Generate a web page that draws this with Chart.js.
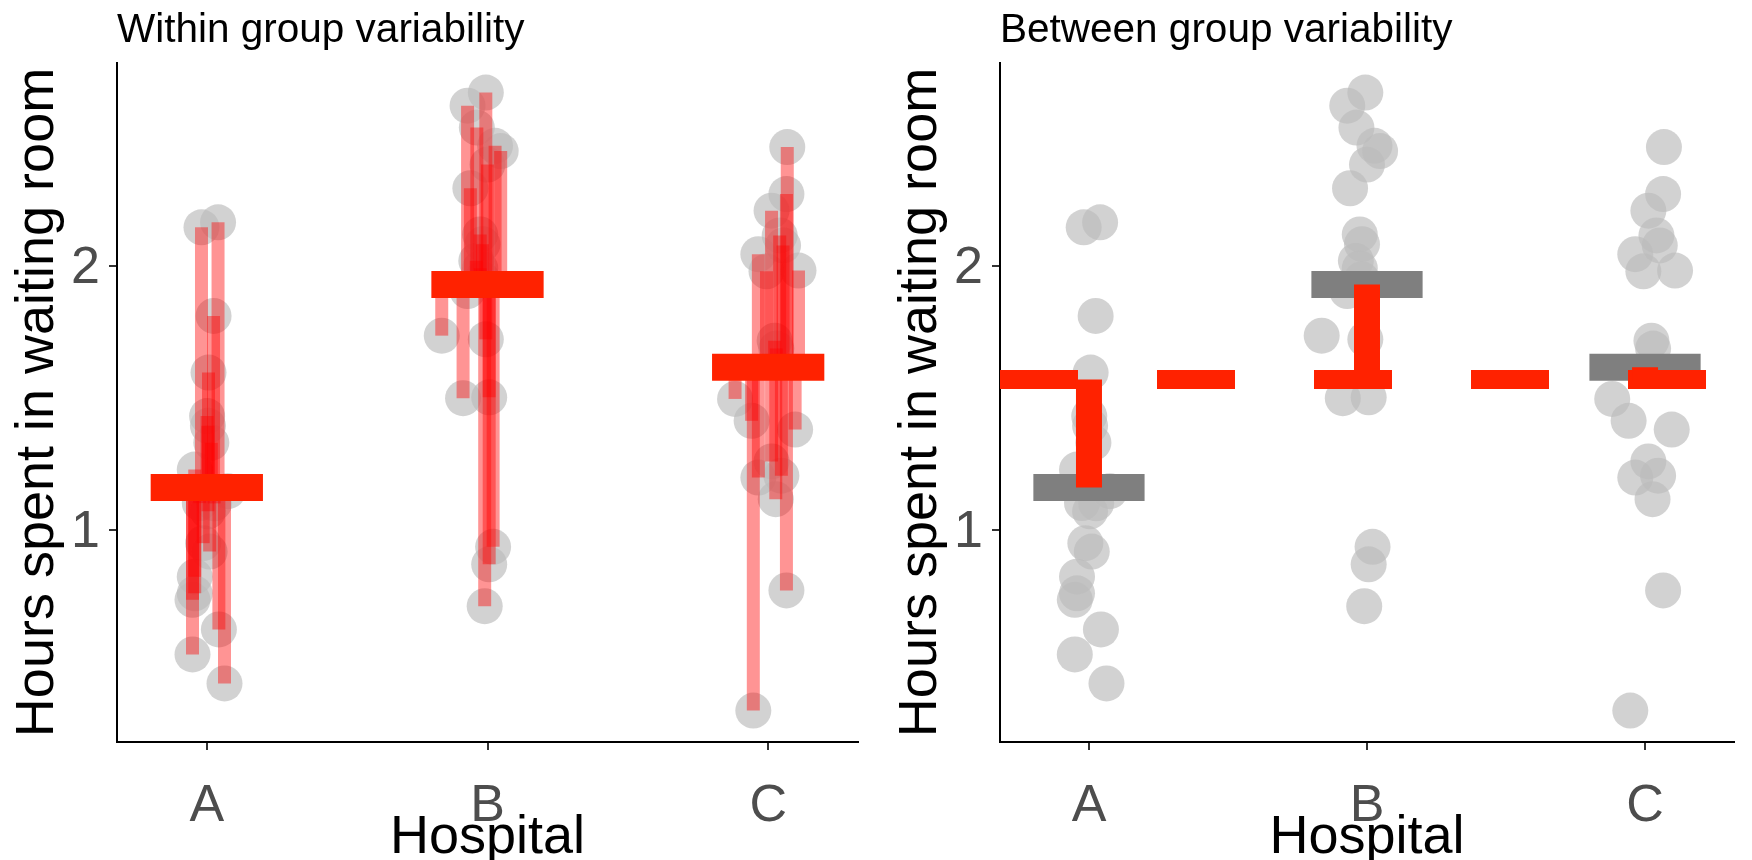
<!DOCTYPE html>
<html>
<head>
<meta charset="utf-8">
<script src="https://cdn.jsdelivr.net/npm/chart.js@4/dist/chart.umd.min.js"></script>
<style>
html, body { margin: 0; padding: 0; background: #fff; overflow: hidden; }
.panel { position: absolute; top: 0; height: 860px; }
#left { left: 0; width: 876px; }
#right { left: 883px; width: 869px; }
</style>
</head>
<body>
<div class="panel" id="left"><canvas id="within"></canvas></div>
<div class="panel" id="right"><canvas id="between"></canvas></div>
<script>
const hospitals = ["A", "B", "C"];

// jitter (offset from the hospital position) and hours, one pair of arrays per hospital
const jitterA = [-0.019, 0.040, 0.024, 0.006, 0.001, 0.004, 0.016, -0.043, 0.075, -0.025,
                 0.004, -0.013, 0.010, -0.043, -0.043, -0.051, 0.043, -0.051, 0.063, 0.026];
const hoursA  = [2.147, 2.166, 1.811, 1.596, 1.431, 1.394, 1.330, 1.228, 1.146, 1.101,
                 1.070, 0.949, 0.917, 0.822, 0.759, 0.734, 0.622, 0.527, 0.417, 1.100];

const jitterB = [-0.071, -0.006, -0.038, 0.047, 0.000, -0.061, -0.018, -0.026, -0.071, -0.163,
                 -0.006, -0.087, 0.006, 0.020, 0.006, -0.010, 0.027, -0.040, -0.019, -0.026];
const hoursB  = [2.608, 2.658, 2.525, 2.436, 2.385, 2.295, 2.083, 1.992, 1.905, 1.736,
                 1.722, 1.499, 1.502, 0.935, 0.869, 0.710, 2.456, 2.020, 1.950, 2.120];

const jitterC = [0.068, 0.065, 0.012, 0.041, 0.053, -0.035, -0.006, 0.108, 0.023, 0.029,
                 -0.118, -0.059, 0.096, 0.012, -0.035, 0.047, 0.027, 0.065, -0.053];
const hoursC  = [2.451, 2.273, 2.210, 2.116, 2.078, 2.045, 1.980, 1.983, 1.717, 1.687,
                 1.496, 1.413, 1.380, 1.259, 1.198, 1.205, 1.116, 0.770, 0.314];

const groupMeans = [1.16, 1.93, 1.616];
const grandMean = 1.57;
const yTicks = [1, 2];

const groups = [[jitterA, hoursA], [jitterB, hoursB], [jitterC, hoursC]];
const xMin = 0.68, xMax = 3.32;
const FONT = '"Liberation Sans", Arial, Helvetica, sans-serif';

function allPoints() {
  const out = [];
  groups.forEach(([jx, hy], i) => {
    hy.forEach((v, j) => out.push({ x: i + 1 + jx[j], y: v, g: i }));
  });
  return out;
}

function seg(data, color, width, order, dash) {
  return {
    type: "line", data: data, showLine: true, pointRadius: 0,
    borderColor: color, borderWidth: width, borderCapStyle: "butt",
    borderDash: dash || [], order: order, fill: false, tension: 0
  };
}

function pointSet(order) {
  return {
    type: "scatter", data: allPoints(), order: order,
    pointRadius: 18, pointHoverRadius: 18, borderWidth: 0,
    backgroundColor: "rgba(188,188,188,0.68)"
  };
}

function meanBars(color, order) {
  return groupMeans.map((m, i) =>
    seg([{ x: i + 0.8, y: m }, { x: i + 1.2, y: m }], color, 27, order));
}

// left panel: every point joined to its group mean
const withinSets = [pointSet(3)];
allPoints().forEach(p => {
  withinSets.push(seg([{ x: p.x, y: p.y }, { x: p.x, y: groupMeans[p.g] }], "rgba(255,0,0,0.42)", 13, 2));
});
withinSets.push(...meanBars("#ff2200", 1));

// right panel: group means joined to the grand mean
const betweenSets = [pointSet(4)];
betweenSets.push(...meanBars("#7f7f7f", 3));
betweenSets.push(seg([{ x: xMin, y: grandMean }, { x: xMax, y: grandMean }], "#ff2200", 19, 2, [78, 79]));
groupMeans.forEach((m, i) => {
  betweenSets.push(seg([{ x: i + 1, y: m }, { x: i + 1, y: grandMean }], "#ff2200", 26, 1));
});

const panelTitle = {
  id: "panelTitle",
  afterDraw(chart, args, opts) {
    const ctx = chart.ctx;
    ctx.save();
    ctx.font = "40.5px " + FONT;
    ctx.fillStyle = "#000";
    ctx.textBaseline = "alphabetic";
    ctx.fillText(opts.text, chart.chartArea.left, 42);
    ctx.restore();
  }
};

function axisCommon() {
  return {
    type: "linear",
    grid: { display: true, drawOnChartArea: false, drawTicks: true, tickLength: 8, color: "#333", lineWidth: 2 },
    border: { display: true, color: "#000", width: 2 }
  };
}

function makeChart(id, titleText, datasets, padRight) {
  return new Chart(document.getElementById(id), {
    type: "scatter",
    data: { datasets: datasets },
    plugins: [panelTitle],
    options: {
      responsive: true,
      maintainAspectRatio: false,
      animation: false,
      events: [],
      layout: { padding: { top: 63, right: padRight, left: 0, bottom: 0 } },
      plugins: {
        legend: { display: false },
        tooltip: { enabled: false },
        panelTitle: { text: titleText }
      },
      scales: {
        x: Object.assign(axisCommon(), {
          min: xMin, max: xMax,
          afterBuildTicks: s => { s.ticks = hospitals.map((h, i) => ({ value: i + 1 })); },
          afterFit: s => { s.height = 118; },
          ticks: {
            callback: v => hospitals[Math.round(v) - 1],
            color: "#4d4d4d", font: { size: 52, family: FONT }, padding: 25,
            autoSkip: false, maxRotation: 0
          },
          title: { display: true, text: "Hospital", color: "#000", font: { size: 54, family: FONT },
                   padding: { top: 0, bottom: -11 } }
        }),
        y: Object.assign(axisCommon(), {
          min: 0.195, max: 2.77,
          afterBuildTicks: s => { s.ticks = yTicks.map(v => ({ value: v })); },
          afterFit: s => { s.width = 117; },
          ticks: { color: "#4d4d4d", font: { size: 52, family: FONT }, padding: 9, labelOffset: 3 },
          title: { display: true, text: "Hours spent in waiting room", color: "#000", font: { size: 54, family: FONT },
                   padding: { top: 6, bottom: 0 } }
        })
      }
    }
  });
}

makeChart("within", "Within group variability", withinSets, 11);
makeChart("between", "Between group variability", betweenSets, 4);
</script>
</body>
</html>
